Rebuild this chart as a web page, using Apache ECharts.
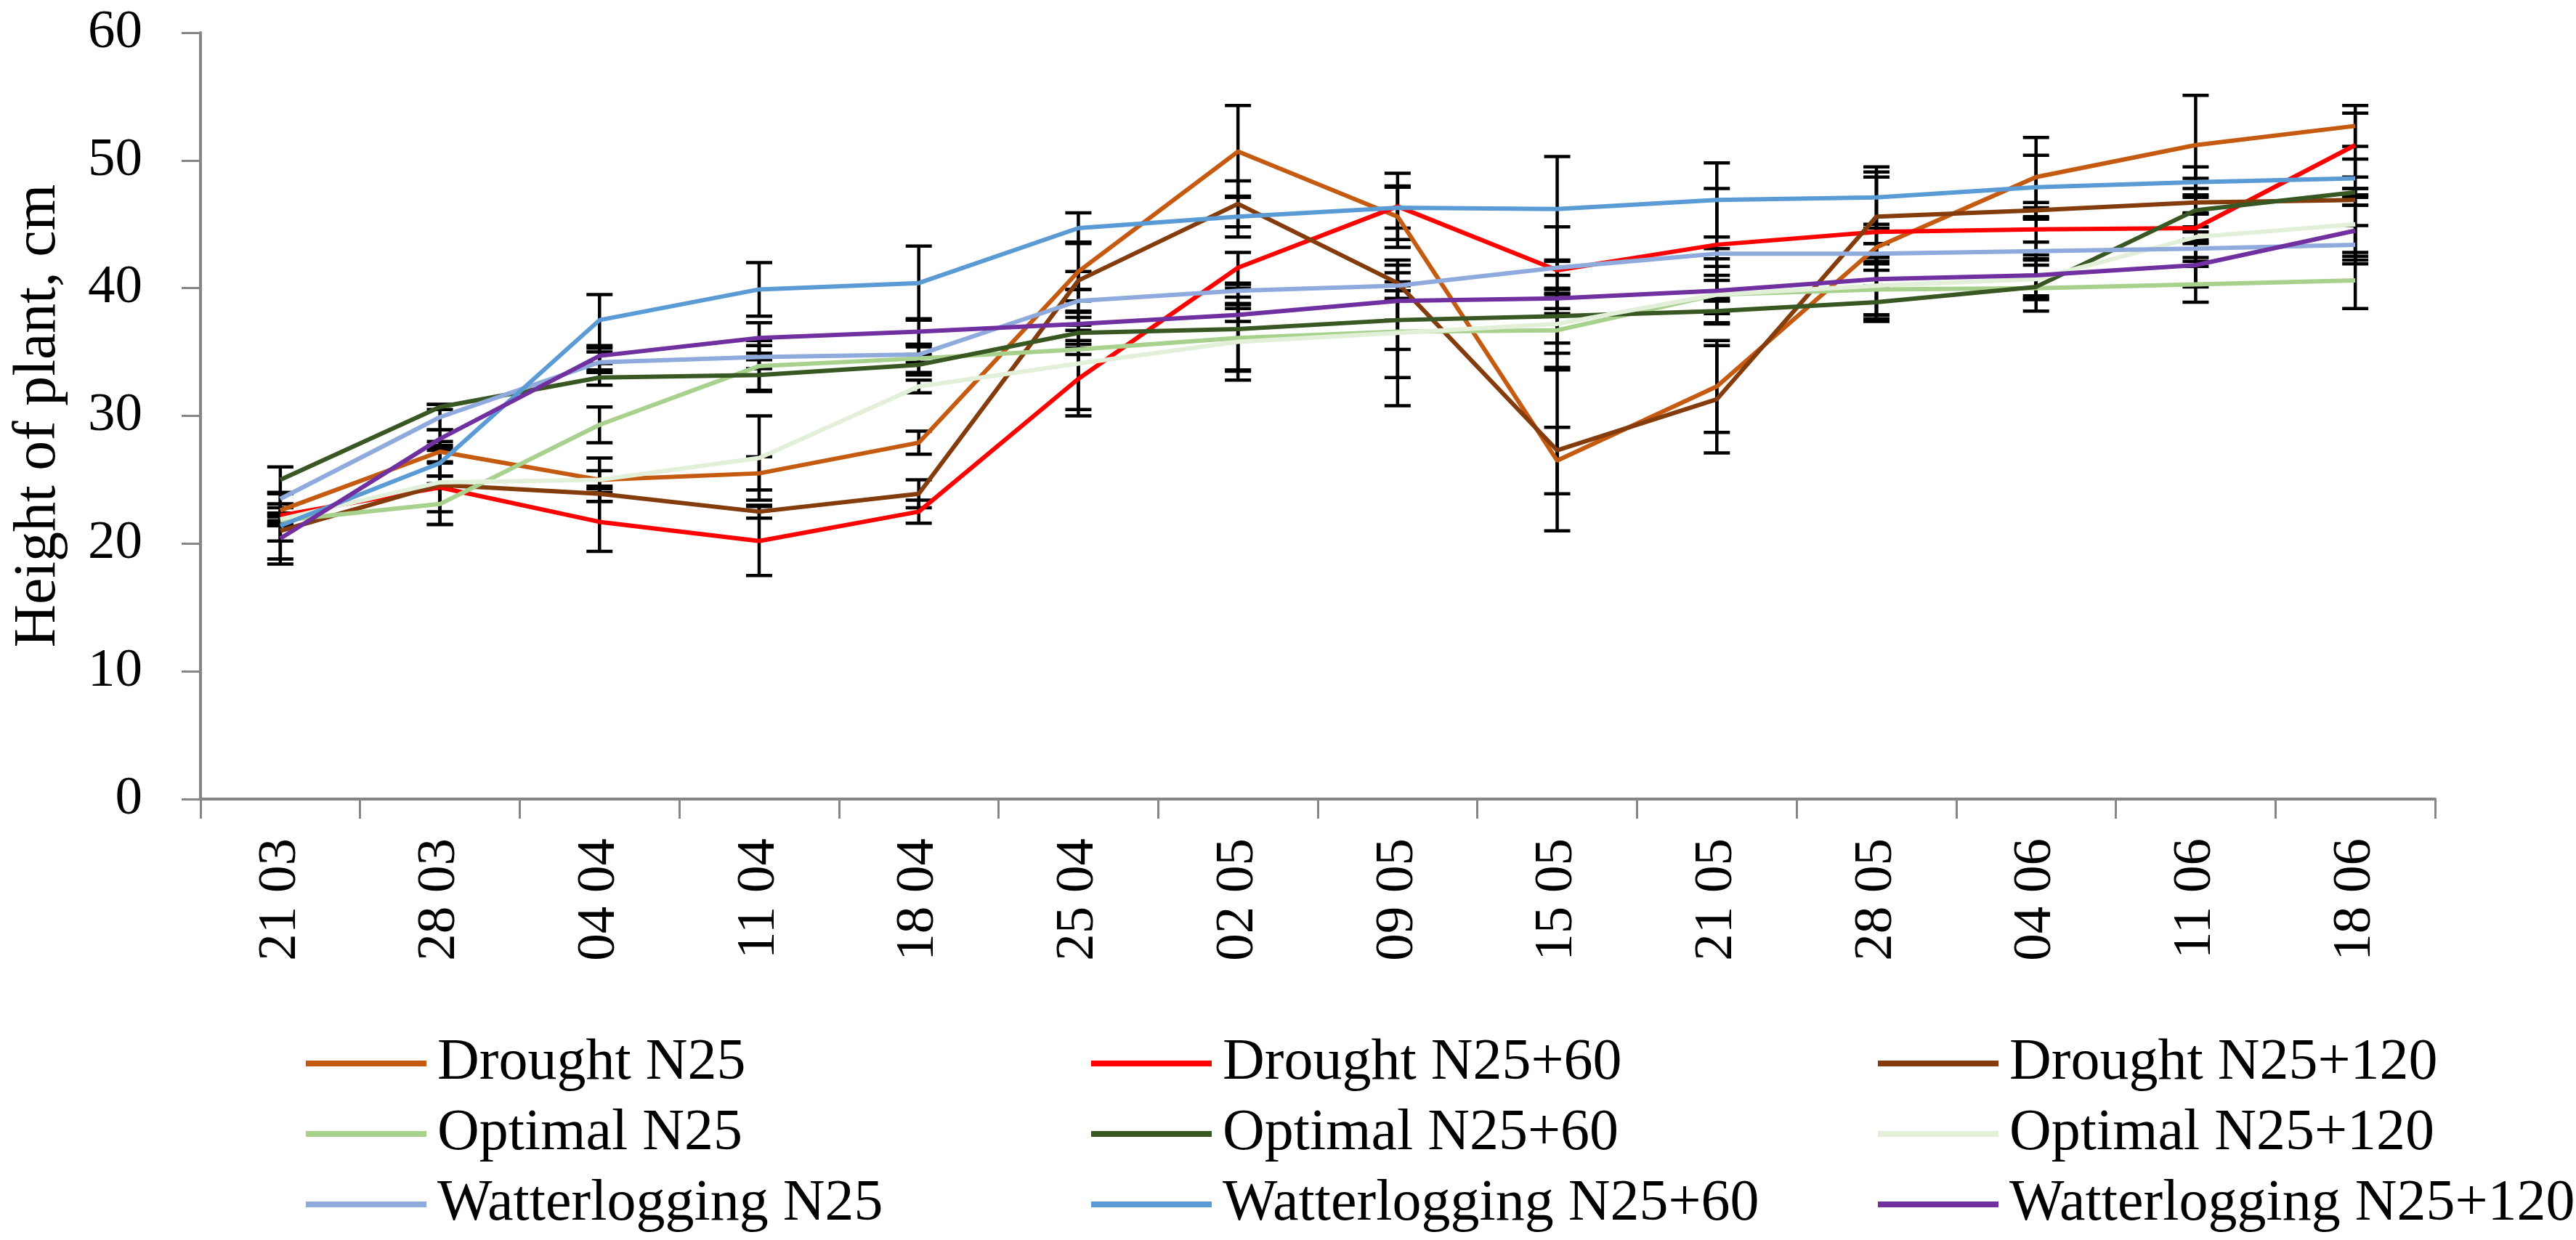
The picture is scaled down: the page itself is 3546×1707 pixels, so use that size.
<!DOCTYPE html>
<html>
<head>
<meta charset="utf-8">
<script src="https://cdn.jsdelivr.net/npm/echarts@6/dist/echarts.min.js"></script>
<style>
html,body{margin:0;padding:0;background:#fff;}
#chart{width:3546px;height:1707px;}
</style>
</head>
<body>
<div id="chart"></div>
<script>
const categories = ['21 03','28 03','04 04','11 04','18 04','25 04','02 05','09 05','15 05','21 05','28 05','04 06','11 06','18 06'];
const yTicks = [0,10,20,30,40,50,60];

const seriesNames = ['Drought N25','Drought N25+60','Drought N25+120','Optimal N25','Optimal N25+60','Optimal N25+120','Watterlogging N25','Watterlogging N25+60','Watterlogging N25+120'];

const droughtN25      = [22.6,27.2,25.0,25.5,27.9,41.3,50.7,45.6,26.5,32.3,43.2,48.7,51.2,52.7];
const droughtN25_60   = [22.2,24.4,21.7,20.2,22.5,32.9,41.6,46.4,41.4,43.4,44.4,44.6,44.7,51.2];
const droughtN25_120  = [21.0,24.6,23.9,22.5,23.9,40.6,46.6,40.4,27.3,31.3,45.6,46.1,46.7,46.9];
const optimalN25      = [21.8,23.1,29.3,33.9,34.5,35.2,36.1,36.6,36.7,39.5,39.9,40.0,40.3,40.6];
const optimalN25_60   = [25.0,30.7,33.0,33.2,34.0,36.5,36.8,37.5,37.8,38.2,38.9,40.1,46.1,47.5];
const optimalN25_120  = [21.9,24.8,25.0,26.7,32.3,34.1,35.8,36.5,37.2,39.5,40.2,40.7,44.0,45.0];
const waterN25        = [23.5,29.9,34.2,34.6,34.8,39.0,39.8,40.2,41.6,42.7,42.7,42.9,43.1,43.4];
const waterN25_60     = [21.4,26.3,37.5,39.9,40.4,44.7,45.6,46.3,46.2,46.9,47.1,47.9,48.3,48.6];
const waterN25_120    = [20.4,28.2,34.7,36.1,36.6,37.2,37.9,39.0,39.2,39.8,40.7,41.0,41.8,44.5];

// symmetric error (±) per point
const errDroughtN25     = [0.5,0.8,1.7,1.3,0.9,2.3,3.6,2.4,2.6,3.6,1.8,3.1,3.9,1.6];
const errDroughtN25_60  = [0.6,1.9,2.3,2.7,0.9,2.4,1.2,2.6,3.4,4.4,4.3,1.7,1.1,2.5];
const errDroughtN25_120 = [0.8,3.1,0.6,0.5,1.1,0.7,1.8,1.4,6.3,4.2,3.5,0.6,1.9,0.4];
const errOptimalN25     = [0.4,1.6,1.4,2.0,1.1,0.4,2.6,3.6,2.9,2.2,2.5,1.8,1.4,2.2];
const errOptimalN25_60  = [1.0,0.2,0.6,1.2,0.8,0.6,3.2,2.3,2.1,1.0,1.3,0.9,1.7,0.3];
const errOptimalN25_120 = [0.5,0.5,0.7,3.3,0.5,4.1,3.0,5.7,2.3,1.5,2.3,1.6,1.9,2.8];
const errWaterN25       = [0.4,1.0,0.8,0.9,0.6,0.9,0.5,1.0,0.6,0.4,0.8,0.7,0.7,1.5];
const errWaterN25_60    = [2.6,1.0,2.0,2.1,2.9,1.2,1.6,1.6,4.1,2.9,2.4,2.5,1.2,1.5];
const errWaterN25_120   = [2.0,0.7,0.6,1.2,1.0,0.5,0.5,1.5,0.8,0.8,2.8,1.6,1.7,2.0];

const colors = ['#C55A11','#FF0000','#843C0C','#A9D18E','#385723','#E2F0D9','#8FAADC','#5B9BD5','#7030A0'];

const values = [droughtN25,droughtN25_60,droughtN25_120,optimalN25,optimalN25_60,optimalN25_120,waterN25,waterN25_60,waterN25_120];
const errors = [errDroughtN25,errDroughtN25_60,errDroughtN25_120,errOptimalN25,errOptimalN25_60,errOptimalN25_120,errWaterN25,errWaterN25_60,errWaterN25_120];

const FONT = 'Liberation Serif';
const FS_TICK = 75;
const FS_NAME = 82;
const FS_LEG = 80;

const series = [];
// error bars (below lines)
values.forEach((vals, s) => {
  series.push({
    type: 'custom',
    name: seriesNames[s],
    z: 1,
    silent: true,
    data: vals.map((v, i) => [i, v - errors[s][i], v + errors[s][i]]),
    renderItem: function (params, api) {
      const x = api.value(0);
      const lo = api.coord([x, api.value(1)]);
      const hi = api.coord([x, api.value(2)]);
      const hw = 18;
      const st = {stroke: '#000', lineWidth: 4.5};
      return {
        type: 'group',
        children: [
          {type: 'line', shape: {x1: lo[0], y1: lo[1], x2: hi[0], y2: hi[1]}, style: st},
          {type: 'line', shape: {x1: lo[0]-hw, y1: lo[1], x2: lo[0]+hw, y2: lo[1]}, style: st},
          {type: 'line', shape: {x1: hi[0]-hw, y1: hi[1], x2: hi[0]+hw, y2: hi[1]}, style: st}
        ]
      };
    }
  });
});
values.forEach((vals, s) => {
  series.push({
    type: 'line',
    name: seriesNames[s],
    data: vals,
    z: 5,
    showSymbol: false,
    symbol: 'none',
    lineStyle: {color: colors[s], width: 6},
    itemStyle: {color: colors[s]},
    emphasis: {disabled: true},
    animation: false
  });
});

function legendCol(names, left) {
  return {
    orient: 'vertical',
    left: left,
    top: 1419,
    itemWidth: 166,
    itemHeight: 8,
    itemGap: 17,
    icon: 'rect',
    data: names,
    textStyle: {fontFamily: FONT, fontSize: FS_LEG, color: '#000', lineHeight: 80, padding: [0,0,0,10]},
    selectedMode: false
  };
}

const option = {
  animation: false,
  backgroundColor: '#fff',
  color: colors,
  grid: {left: 276, right: 194, top: 45, bottom: 607, containLabel: false},
  legend: [
    legendCol([seriesNames[0], seriesNames[3], seriesNames[6]], 416),
    legendCol([seriesNames[1], seriesNames[4], seriesNames[7]], 1497),
    legendCol([seriesNames[2], seriesNames[5], seriesNames[8]], 2580)
  ],
  xAxis: {
    type: 'category',
    data: categories,
    boundaryGap: true,
    axisLine: {lineStyle: {color: '#868686', width: 4}},
    axisTick: {show: true, interval: 0, length: 27, alignWithLabel: false, lineStyle: {color: '#868686', width: 3}},
    axisLabel: {rotate: 90, interval: 0, margin: 54, fontFamily: FONT, fontSize: FS_TICK, color: '#000'},
    splitLine: {show: false}
  },
  yAxis: {
    type: 'value',
    min: yTicks[0],
    max: yTicks[yTicks.length - 1],
    interval: 10,
    name: 'Height of plant, cm',
    nameLocation: 'middle',
    nameGap: 182,
    nameTextStyle: {fontFamily: FONT, fontSize: FS_NAME, color: '#000'},
    axisLine: {show: true, lineStyle: {color: '#868686', width: 4}},
    axisTick: {show: true, length: 26, lineStyle: {color: '#868686', width: 3}},
    axisLabel: {margin: 80, fontFamily: FONT, fontSize: FS_TICK, color: '#000'},
    splitLine: {show: false}
  },
  series: series
};

const chart = echarts.init(document.getElementById('chart'), null, {renderer: 'canvas'});
chart.setOption(option);
</script>
</body>
</html>
